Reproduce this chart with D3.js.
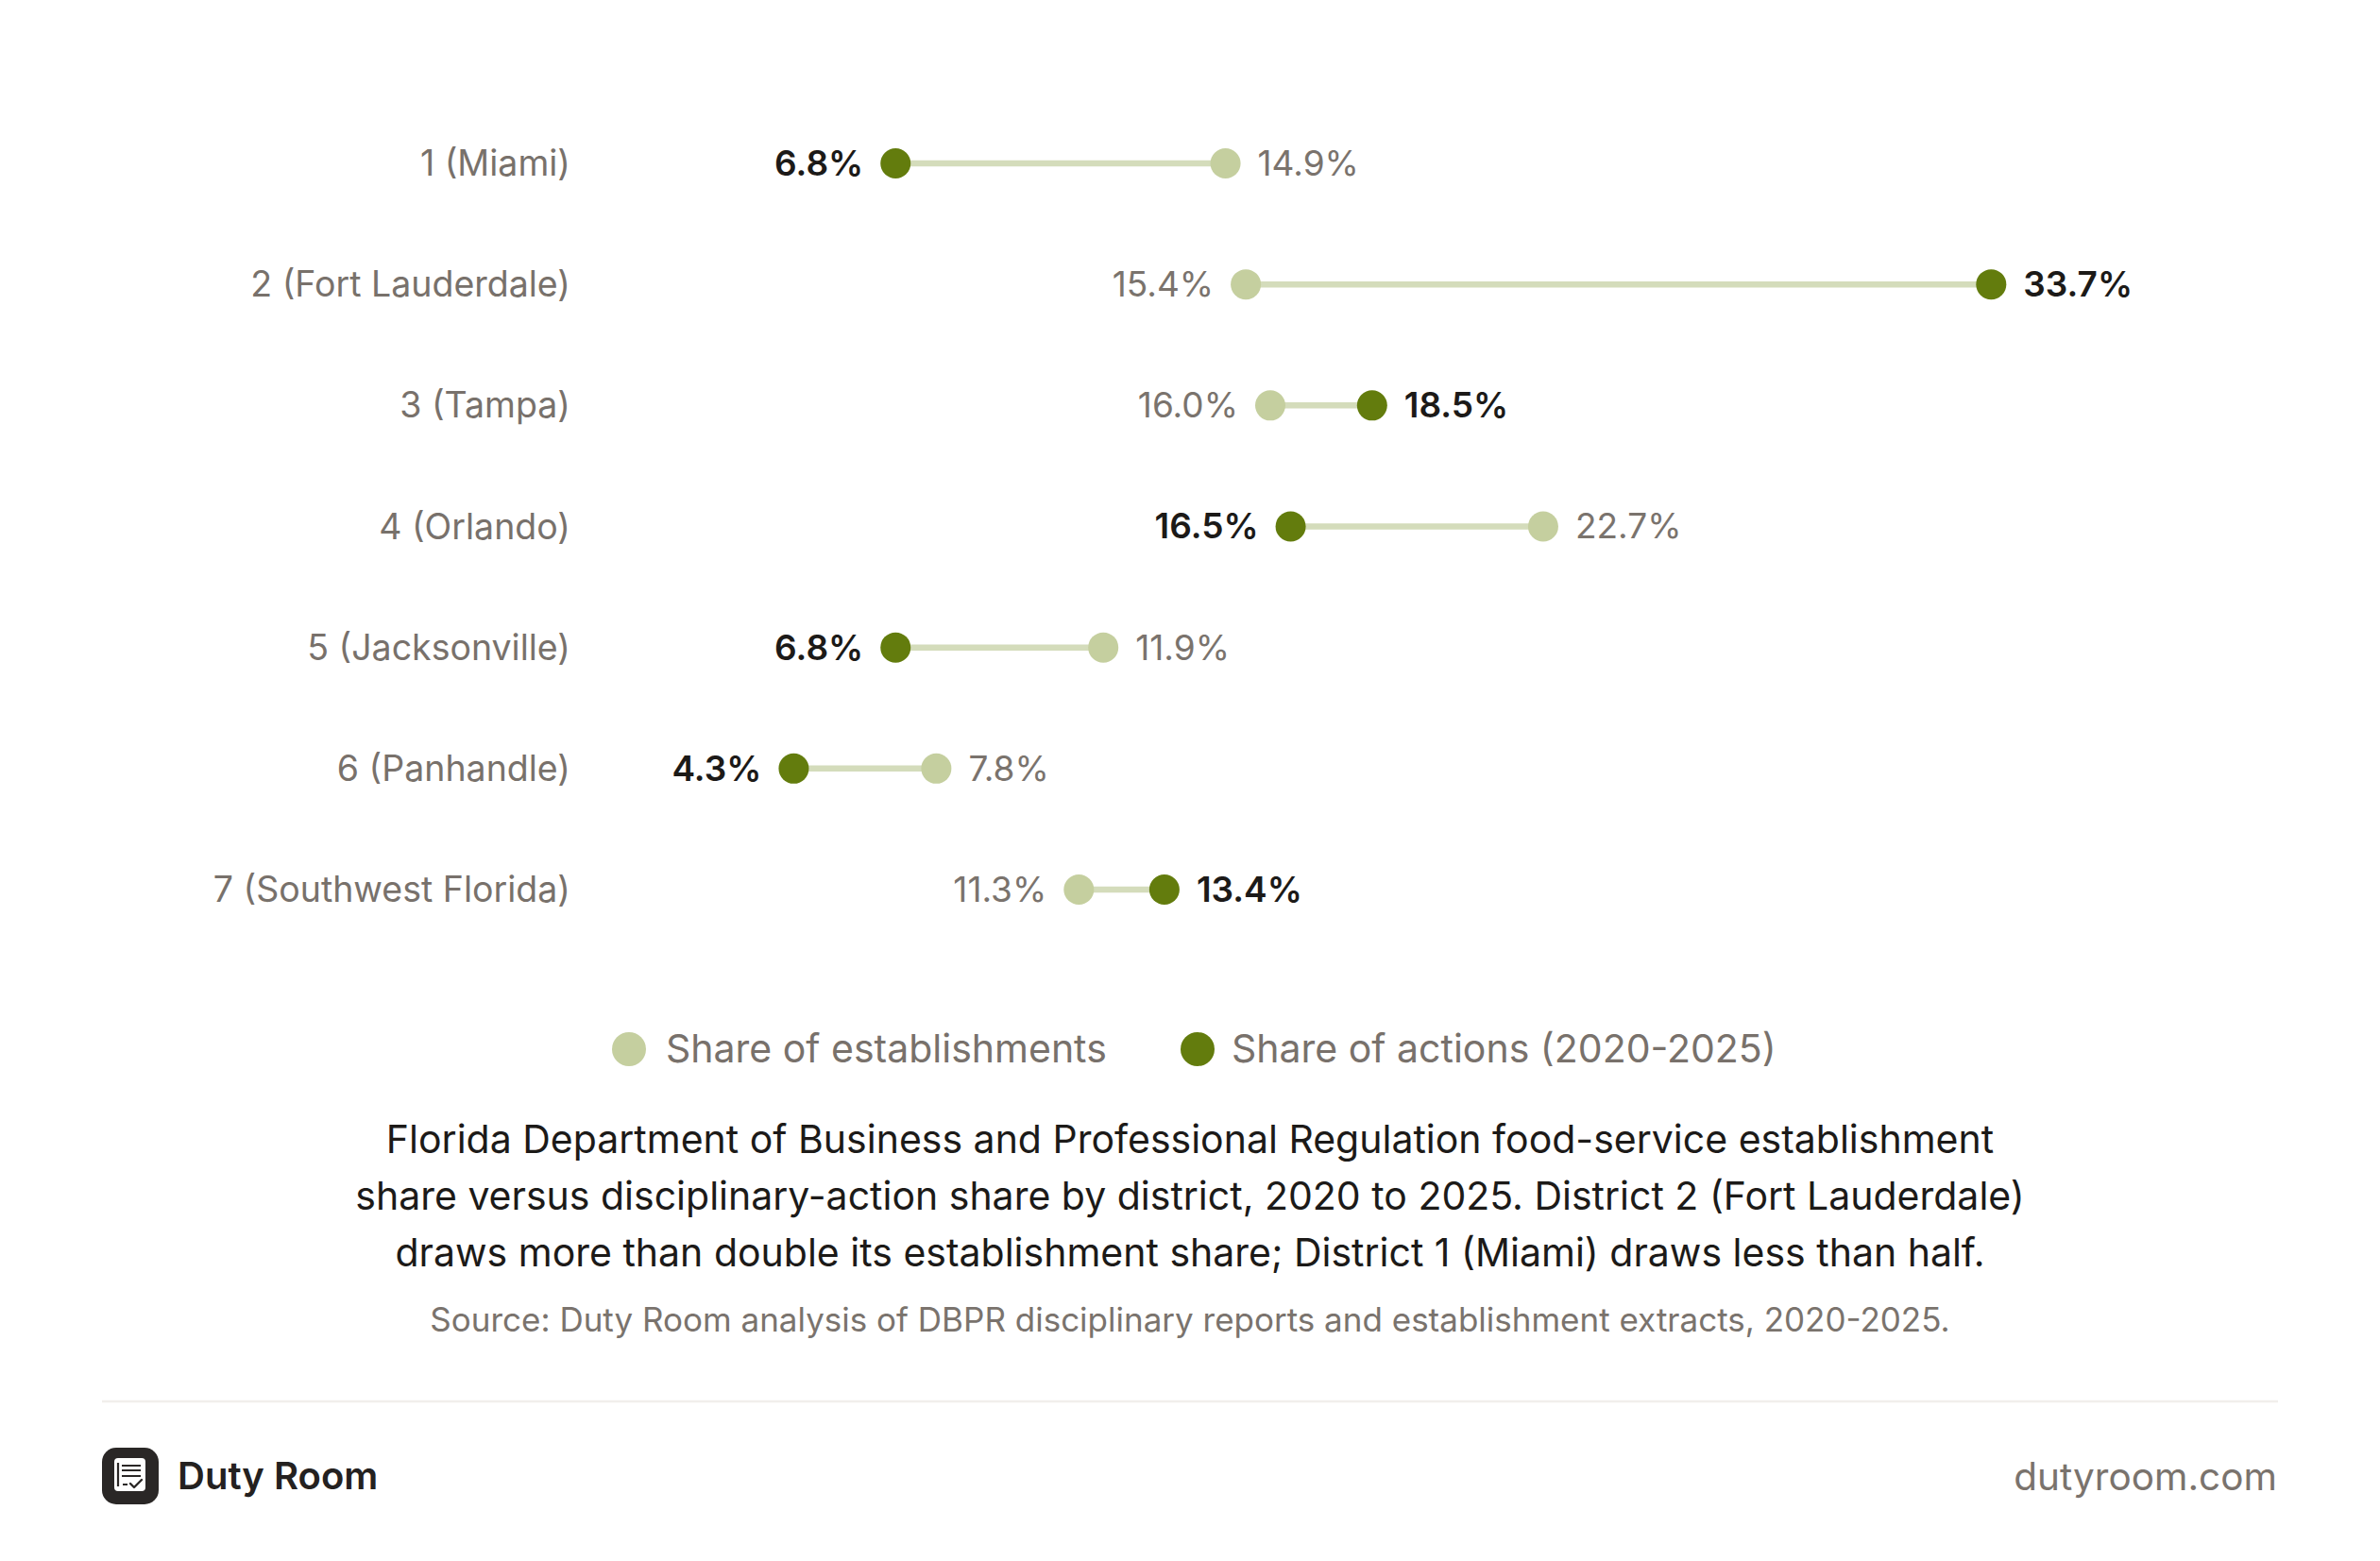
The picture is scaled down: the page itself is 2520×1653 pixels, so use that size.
<!DOCTYPE html>
<html lang="en">
  <head>
    <meta charset="UTF-8" />
    <title>Establishment share vs action share by district</title>
    <script src="https://d3js.org/d3.v7.min.js"></script>
    <style>
      body {
        margin: 0;
        background: #fff;
        font-family: Inter, "Noto Sans", sans-serif;
      }
      svg {
        display: block;
      }
      .cat-label {
        font-size: 37.5px;
        fill: #78716b;
      }
      .val-est {
        font-size: 37px;
        fill: #7a736d;
      }
      .val-act {
        font-size: 37px;
        font-weight: 600;
        fill: #1c1a18;
      }
      .legend text {
        font-size: 41px;
        fill: #78716b;
      }
      .caption {
        font-size: 41px;
        fill: #1c1a18;
      }
      .source {
        font-size: 35px;
        fill: #7a736d;
      }
    </style>
  </head>
  <body>
    <svg width="2520" height="1653"></svg>

    <script>
      const districts = [
        "1 (Miami)",
        "2 (Fort Lauderdale)",
        "3 (Tampa)",
        "4 (Orlando)",
        "5 (Jacksonville)",
        "6 (Panhandle)",
        "7 (Southwest Florida)",
      ];
      // share of establishments (%)
      const estShare = [14.9, 15.4, 16.0, 22.7, 11.9, 7.8, 11.3];
      // share of disciplinary actions 2020-2025 (%)
      const actShare = [6.8, 33.7, 18.5, 16.5, 6.8, 4.3, 13.4];

      const legendLabels = ["Share of establishments", "Share of actions (2020-2025)"];
      const captionLines = [
        "Florida Department of Business and Professional Regulation food-service establishment",
        "share versus disciplinary-action share by district, 2020 to 2025. District 2 (Fort Lauderdale)",
        "draws more than double its establishment share; District 1 (Miami) draws less than half.",
      ];
      const sourceText =
        "Source: Duty Room analysis of DBPR disciplinary reports and establishment extracts, 2020-2025.";

      const colEst = "#c5cf9f";
      const colAct = "#637c0d";
      const colLine = "#d4dcbb";

      const svg = d3.select("svg");
      const width = +svg.attr("width");

      const rows = districts.map((d, i) => ({
        name: d,
        est: estShare[i],
        act: actShare[i],
      }));

      const x = d3.scaleLinear().domain([0, 40]).range([655, 2380]);
      const y = d3.scalePoint().domain(districts).range([173, 942]);
      const r = 16;

      // category labels
      svg
        .append("g")
        .selectAll("text")
        .data(rows)
        .join("text")
        .attr("class", "cat-label")
        .attr("x", 604)
        .attr("y", (d) => y(d.name))
        .attr("dy", "0.35em")
        .attr("text-anchor", "end")
        .text((d) => d.name);

      // connecting lines
      svg
        .append("g")
        .selectAll("line")
        .data(rows)
        .join("line")
        .attr("x1", (d) => x(d.est))
        .attr("x2", (d) => x(d.act))
        .attr("y1", (d) => y(d.name))
        .attr("y2", (d) => y(d.name))
        .attr("stroke", colLine)
        .attr("stroke-width", 6.5);

      const dots = svg.append("g");
      dots
        .selectAll("circle.est")
        .data(rows)
        .join("circle")
        .attr("class", "est")
        .attr("cx", (d) => x(d.est))
        .attr("cy", (d) => y(d.name))
        .attr("r", r)
        .attr("fill", colEst);
      dots
        .selectAll("circle.act")
        .data(rows)
        .join("circle")
        .attr("class", "act")
        .attr("cx", (d) => x(d.act))
        .attr("cy", (d) => y(d.name))
        .attr("r", r)
        .attr("fill", colAct);

      // value labels: lower value goes left, higher goes right
      const labels = [];
      rows.forEach((d) => {
        const estLeft = d.est < d.act;
        labels.push({ row: d, v: d.est, kind: "est", left: estLeft });
        labels.push({ row: d, v: d.act, kind: "act", left: !estLeft });
      });
      svg
        .append("g")
        .selectAll("text")
        .data(labels)
        .join("text")
        .attr("class", (d) => "val-" + d.kind)
        .attr("x", (d) => x(d.v) + (d.left ? -34 : 34))
        .attr("y", (d) => y(d.row.name))
        .attr("dy", "0.35em")
        .attr("text-anchor", (d) => (d.left ? "end" : "start"))
        .text((d) => d.v.toFixed(1) + "%");

      // legend
      const legend = svg.append("g").attr("class", "legend");
      const legendItems = [
        { label: legendLabels[0], color: colEst, cx: 666, tx: 705 },
        { label: legendLabels[1], color: colAct, cx: 1268, tx: 1304 },
      ];
      legendItems.forEach((it) => {
        legend.append("circle").attr("cx", it.cx).attr("cy", 1111).attr("r", 18).attr("fill", it.color);
        legend
          .append("text")
          .attr("x", it.tx)
          .attr("y", 1111)
          .attr("dy", "0.35em")
          .text(it.label);
      });

      // caption
      svg
        .append("g")
        .selectAll("text")
        .data(captionLines)
        .join("text")
        .attr("class", "caption")
        .attr("x", width / 2)
        .attr("y", (d, i) => 1221 + i * 60)
        .attr("text-anchor", "middle")
        .text((d) => d);

      svg
        .append("text")
        .attr("class", "source")
        .attr("x", width / 2)
        .attr("y", 1410)
        .attr("text-anchor", "middle")
        .text(sourceText);

      // divider
      svg
        .append("line")
        .attr("x1", 108)
        .attr("x2", 2412)
        .attr("y1", 1484)
        .attr("y2", 1484)
        .attr("stroke", "#f1efec")
        .attr("stroke-width", 2.5);

      // footer logo
      const logo = svg.append("g").attr("transform", "translate(108,1533)");
      logo.append("rect").attr("width", 60).attr("height", 60).attr("rx", 15).attr("fill", "#2a2726");
      logo.append("rect").attr("x", 13).attr("y", 11).attr("width", 33).attr("height", 35).attr("rx", 4).attr("fill", "#fff");
      logo.append("line").attr("x1", 17).attr("x2", 17).attr("y1", 16).attr("y2", 41).attr("stroke", "#2a2726").attr("stroke-width", 2.2);
      [19, 24, 30].forEach((yy) => {
        logo.append("line").attr("x1", 21).attr("x2", 41).attr("y1", yy).attr("y2", yy).attr("stroke", "#2a2726").attr("stroke-width", 2);
      });
      logo.append("line").attr("x1", 22).attr("x2", 27).attr("y1", 39).attr("y2", 39).attr("stroke", "#2a2726").attr("stroke-width", 2);
      logo
        .append("path")
        .attr("d", "M30,38 L34,42 L42,34")
        .attr("fill", "none")
        .attr("stroke", "#2a2726")
        .attr("stroke-width", 2.4)
        .attr("stroke-linecap", "round")
        .attr("stroke-linejoin", "round");

      svg
        .append("text")
        .attr("x", 188)
        .attr("y", 1577)
        .attr("font-size", 40)
        .attr("font-weight", 600)
        .attr("fill", "#242120")
        .text("Duty Room");

      svg
        .append("text")
        .attr("x", 2411)
        .attr("y", 1578)
        .attr("font-size", 40.5)
        .attr("text-anchor", "end")
        .attr("fill", "#7a736d")
        .text("dutyroom.com");
    </script>
  </body>
</html>
